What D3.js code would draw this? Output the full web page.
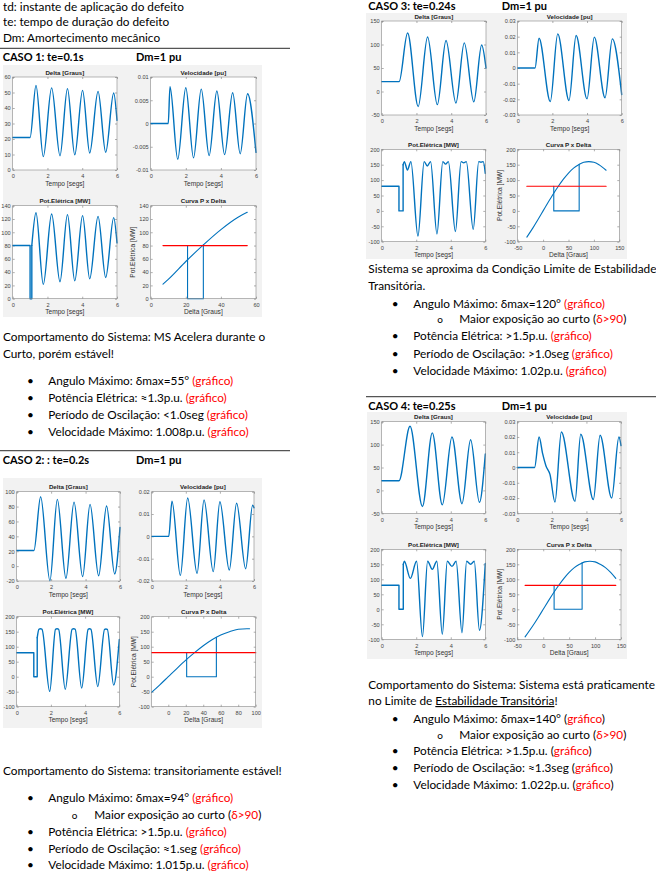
<!DOCTYPE html>
<html><head><meta charset="utf-8">
<script src="https://cdn.jsdelivr.net/npm/d3@7"></script>
<style>
html,body{margin:0;padding:0;background:#fff;}
svg{display:block;}
</style></head><body>
<svg id="page" width="656" height="873"></svg>
<script>
// ---------------- DATA ----------------
const timeTicks = [0, 2, 4, 6];
const timeDomain = [0, 6];

// CASE 1
const c1Delta = [[0,21],[1,21],[1.34,54.6],[1.76,8.6],[2.24,53],[2.72,9.2],[3.15,52.5],[3.57,9.8],[4.02,51.4],[4.43,11],[4.91,50.7],[5.35,11.4],[5.81,49.7],[6,32]];
const c1Speed = [[0,0],[1,0],[1.1,0.0079],[1.54,-0.0077],[2,0.0077],[2.44,-0.0074],[2.88,0.0074],[3.33,-0.0069],[3.77,0.007],[4.21,-0.0067],[4.67,0.0066],[5.1,-0.0065],[5.52,0.0064],[6,-0.0062]];
const c1PowerStep = [[0,80],[1,80],[1,0],[1.1,0],[1.1,80]];
const c1PowerSwing = [[1.1,80],[1.34,129.5],[1.76,21.6],[2.24,127.6],[2.72,25.6],[3.15,126.5],[3.57,27],[4.02,125],[4.43,30],[4.91,124],[5.35,32],[5.81,122],[6,84]];
const c1AngleCurve = [[7,22],[10,29],[20,56],[30,81],[40,104],[50,123],[55,130]];
const c1Mech = [[7,80],[55,80]];
const c1Area = [[21,80],[21,0],[30,0],[30,81]];
const c1DeltaTicks = [0,10,20,30,40,50,60];
const c1SpeedTicks = [-0.01,-0.005,0,0.005,0.01];
const c1PowerTicks = [0,20,40,60,80,100,120,140];
const c1AngleTicks = [0,20,40,60];

// CASE 2
const c2Delta = [[0,21],[1,21],[1.39,93.3],[1.93,-19.6],[2.36,89.7],[2.86,-16.4],[3.33,86],[3.83,-14],[4.26,83],[4.76,-13],[5.22,80.7],[5.69,-10.6],[6,52]];
const c2Speed = [[0,0],[1,0],[1.19,0.0158],[1.68,-0.0175],[2.11,0.0172],[2.66,-0.0166],[3.07,0.0163],[3.61,-0.0158],[4.0,0.0155],[4.55,-0.0151],[4.98,0.0148],[5.51,-0.0145],[5.92,0.014],[6,0.0128]];
const c2PowerStep = [[0,80],[1,80],[1,0],[1.2,0],[1.2,130]];
const c2PowerSwing = [[1.2,130],[1.3,158],[1.39,160],[1.48,158],[1.93,-49],[2.27,158],[2.36,160],[2.45,158],[2.84,-42],[3.24,158],[3.33,160],[3.42,158],[3.8,-38],[4.18,158],[4.26,160],[4.34,158],[4.74,-33],[5.14,158],[5.22,159],[5.3,158],[5.67,-28],[6,124]];
const c2AngleCurve = [[-19,-52],[-10,-28],[0,0],[10,28],[20,55],[30,80],[40,103],[50,123],[60,139],[70,150],[80,158],[90,160],[93,160]];
const c2Mech = [[-19,80],[100,80]];
const c2Area = [[21,80],[21,0],[55,0],[55,131]];
const c2DeltaTicks = [-20,0,20,40,60,80,100];
const c2SpeedTicks = [-0.02,-0.01,0,0.01,0.02];
const c2AngleTicks = [0,20,40,60,80,100];
const bigPowerTicks = [-100,-50,0,50,100,150,200];

// CASE 3
const c3Delta = [[0,21],[1,21],[1.49,124.5],[2.1,-31.8],[2.64,115.8],[3.2,-28],[3.7,108.5],[4.27,-24.5],[4.75,103.5],[5.3,-22],[5.75,99],[6,50]];
const c3Speed = [[0,0],[1,0],[1.23,0.019],[1.88,-0.0214],[2.31,0.0218],[2.96,-0.0207],[3.37,0.0207],[4.0,-0.0197],[4.42,0.0197],[5.04,-0.019],[5.46,0.0186],[6,-0.017]];
const c3PowerStep = [[0,80],[1,80],[1,0],[1.24,0],[1.24,150]];
const c3PowerSwing = [[1.24,150],[1.31,160],[1.49,133],[1.69,160],[2.1,-82],[2.46,160],[2.64,146],[2.83,160],[3.2,-75],[3.54,160],[3.7,152],[3.86,160],[4.27,-67],[4.6,160],[4.75,156],[4.9,160],[5.3,-60],[5.62,160],[5.75,158],[5.88,160],[6,122]];
const c3AngleCurve = [[-32,-85],[-20,-55],[-10,-28],[0,0],[10,28],[20,55],[30,80],[40,103],[50,123],[60,139],[70,150],[80,158],[90,160],[100,158],[110,150],[124,132]];
const c3Mech = [[-32,80],[124,80]];
const c3Area = [[21,80],[21,0],[71,0],[71,151]];

// CASE 4
const c4Delta = [[0,21],[1,21],[1.64,140],[2.36,-35],[2.93,125.5],[3.51,-31.5],[4.07,116.7],[4.65,-29],[5.15,110.7],[5.66,-26],[6,79.6]];
const c4Speed = [[0,0],[1,0],[1.26,0.02],[1.47,0.0089],[1.66,0.001],[1.89,-0.0045],[2.18,-0.0227],[2.55,0.0233],[3.34,-0.0222],[3.67,0.0218],[4.4,-0.021],[4.79,0.0211],[5.46,-0.02],[5.88,0.02],[6,0.0144]];
const c4PowerStep = [[0,80],[1,80],[1,0],[1.25,0],[1.25,150]];
const c4PowerSwing = [[1.25,150],[1.31,160],[1.66,103],[2.02,160],[2.36,-91],[2.66,160],[2.93,133],[3.19,160],[3.51,-83],[3.8,160],[4.07,143],[4.31,160],[4.65,-78],[4.92,160],[5.15,150],[5.36,160],[5.66,-70],[6,153]];
const c4AngleCurve = [[-35,-92],[-20,-55],[-10,-28],[0,0],[10,28],[20,55],[30,80],[40,103],[50,123],[60,139],[70,150],[80,158],[90,160],[100,158],[110,150],[120,139],[130,123],[140,103]];
const c4Mech = [[-35,80],[140,80]];
const c4Area = [[21,80],[21,0],[75,0],[75,155]];
const c34DeltaTicks = [-50,0,50,100,150];
const c34SpeedTicks = [-0.03,-0.02,-0.01,0,0.01,0.02,0.03];
const c34AngleTicks = [-50,0,50,100,150];

// TEXT
const headerLines = ["td: instante de aplicação do defeito", "te: tempo de duração do defeito", "Dm: Amortecimento mecânico"];
const caseTitles = ["CASO 1: te=0.1s", "CASO 2: : te=0.2s", "CASO 3: te=0.24s", "CASO 4: te=0.25s"];
const dampingLabel = "Dm=1 pu";
const plotTitles = ["Delta [Graus]", "Velocidade [pu]", "Pot.Elétrica [MW]", "Curva P x Delta"];
const timeLabel = "Tempo [segs]";
const angleLabel = "Delta [Graus]";
const powerLabel = "Pot.Elétrica [MW]";

const case1Summary = [[["Comportamento do Sistema: MS Acelera durante o",0]], [["Curto, porém estável!",0]]];
const case1Items = [
  [1, [["Angulo Máximo: δmax=55° ",0],["(gráfico)",1]]],
  [1, [["Potência Elétrica: ≈1.3p.u. ",0],["(gráfico)",1]]],
  [1, [["Período de Oscilação: <1.0seg ",0],["(gráfico)",1]]],
  [1, [["Velocidade Máximo: 1.008p.u. ",0],["(gráfico)",1]]]
];
const case2Summary = [[["Comportamento do Sistema: transitoriamente estável!",0]]];
const case2Items = [
  [1, [["Angulo Máximo: δmax=94° ",0],["(gráfico)",1]]],
  [2, [["Maior exposição ao curto (",0],["δ>90",1],[")",0]]],
  [1, [["Potência Elétrica: >1.5p.u. ",0],["(gráfico)",1]]],
  [1, [["Período de Oscilação: ≈1.seg ",0],["(gráfico)",1]]],
  [1, [["Velocidade Máximo: 1.015p.u. ",0],["(gráfico)",1]]]
];
const case3Summary = [[["Sistema se aproxima da Condição Limite de Estabilidade",0]], [["Transitória.",0]]];
const case3Items = [
  [1, [["Angulo Máximo: δmax=120° ",0],["(gráfico)",1]]],
  [2, [["Maior exposição ao curto (",0],["δ>90",1],[")",0]]],
  [1, [["Potência Elétrica: >1.5p.u. ",0],["(gráfico)",1]]],
  [1, [["Período de Oscilação: >1.0seg ",0],["(gráfico)",1]]],
  [1, [["Velocidade Máximo: 1.02p.u. ",0],["(gráfico)",1]]]
];
const case4Summary = [[["Comportamento do Sistema: Sistema está praticamente",0]], [["no Limite de ",0],["Estabilidade Transitória",2],["!",0]]];
const case4Items = [
  [1, [["Angulo Máximo: δmax=140° (",0],["gráfico",1],[")",0]]],
  [2, [["Maior exposição ao curto (",0],["δ>90",1],[")",0]]],
  [1, [["Potência Elétrica: >1.5p.u. (",0],["gráfico",1],[")",0]]],
  [1, [["Período de Oscilação: ≈1.3seg (",0],["gráfico",1],[")",0]]],
  [1, [["Velocidade Máximo: 1.022p.u. (",0],["gráfico",1],[")",0]]]
];

// ---------------- DRAWING ----------------
const page = d3.select("#page");
const docFont = "Lato, 'Open Sans', sans-serif";
const plotFont = "'Liberation Sans', Arial, sans-serif";
const BLUE = "#0072BD", RED = "#FF0000";
const DOC_SIZE = 11.8;
const HEAD_SIZE = 11;

function docText(x, y, segs, opts = {}) {
  const t = page.append("text").attr("x", x).attr("y", y)
    .attr("font-family", docFont).attr("font-size", opts.size || DOC_SIZE)
    .attr("font-weight", opts.bold ? "bold" : "normal").attr("fill", "#000");
  segs.forEach(([s, c]) => {
    const ts = t.append("tspan").text(s).attr("fill", c === 1 ? RED : "#000");
    if (c === 2) ts.attr("text-decoration", "underline");
  });
  return t;
}

function block(summary, summaryX, summaryYs, items, itemYs, bx, tx, sbx, stx) {
  summary.forEach((segs, i) => docText(summaryX, summaryYs[i], segs));
  items.forEach((it, i) => {
    const [lvl, segs] = it;
    if (lvl === 1) {
      docText(bx, itemYs[i], [["•", 0]]);
      docText(tx, itemYs[i], segs);
    } else {
      docText(sbx, itemYs[i], [["o", 0]], {size: 10});
      docText(stx, itemYs[i], segs);
    }
  });
}

function rule(x1, x2, y) {
  page.append("line").attr("x1", x1).attr("x2", x2).attr("y1", y).attr("y2", y)
    .attr("stroke", "#555").attr("stroke-width", 1.2);
}

const fmt = d => String(d);

function drawAxes(r, spec) {
  const [x0, y0, x1, y1] = r;
  const x = d3.scaleLinear().domain(spec.xDomain).range([x0, x1]);
  const y = d3.scaleLinear().domain(spec.yDomain).range([y1, y0]);
  const g = page.append("g");
  g.append("rect").attr("x", x0).attr("y", y0).attr("width", x1 - x0).attr("height", y1 - y0).attr("fill", "#fff");

  const styleAxis = sel => {
    sel.select(".domain").remove();
    sel.selectAll(".tick line").attr("stroke", "#777").attr("stroke-width", 0.6);
    sel.selectAll(".tick text").attr("fill", "#444").attr("font-family", plotFont).attr("font-size", 5.6);
  };
  g.append("g").attr("transform", `translate(0,${y1})`)
    .call(d3.axisBottom(x).tickValues(spec.xTicks).tickSize(-2).tickSizeOuter(0).tickPadding(4.5).tickFormat(fmt)).call(styleAxis);
  g.append("g").attr("transform", `translate(0,${y0})`)
    .call(d3.axisTop(x).tickValues(spec.xTicks).tickSize(-2).tickSizeOuter(0).tickFormat("")).call(styleAxis);
  g.append("g").attr("transform", `translate(${x0},0)`)
    .call(d3.axisLeft(y).tickValues(spec.yTicks).tickSize(-2).tickSizeOuter(0).tickPadding(2).tickFormat(fmt)).call(styleAxis);
  g.append("g").attr("transform", `translate(${x1},0)`)
    .call(d3.axisRight(y).tickValues(spec.yTicks).tickSize(-2).tickSizeOuter(0).tickFormat("")).call(styleAxis);

  spec.series.forEach(s => {
    const line = d3.line().x(d => x(d[0])).y(d => y(d[1])).curve(s.smooth ? d3.curveMonotoneX : d3.curveLinear);
    g.append("path").attr("d", line(s.data)).attr("fill", "none")
      .attr("stroke", s.color || BLUE).attr("stroke-width", s.width || 1.4)
      .attr("stroke-linejoin", "round").attr("stroke-linecap", "round");
  });

  g.append("rect").attr("x", x0).attr("y", y0).attr("width", x1 - x0).attr("height", y1 - y0)
    .attr("fill", "none").attr("stroke", "#888").attr("stroke-width", 0.6);

  g.append("text").attr("x", (x0 + x1) / 2).attr("y", y0 - 2.5).attr("text-anchor", "middle")
    .attr("font-family", plotFont).attr("font-size", 6.2).attr("font-weight", "bold").attr("fill", "#222").text(spec.title);
  g.append("text").attr("x", (x0 + x1) / 2).attr("y", y1 + 15.5).attr("text-anchor", "middle")
    .attr("font-family", plotFont).attr("font-size", 6.6).attr("fill", "#333").text(spec.xLabel);
  if (spec.yLabel) {
    const cx = x0 - 15.5, cy = (y0 + y1) / 2;
    g.append("text").attr("transform", `translate(${cx},${cy}) rotate(-90)`).attr("text-anchor", "middle")
      .attr("font-family", plotFont).attr("font-size", 6.6).attr("fill", "#333").text(spec.yLabel);
  }
}

function drawFigure(layout, d) {
  const [bx0, by0, bx1, by1] = layout.bg;
  page.append("rect").attr("x", bx0).attr("y", by0).attr("width", bx1 - bx0).attr("height", by1 - by0).attr("fill", "#f2f2f2");
  drawAxes(layout.A, {xDomain: timeDomain, xTicks: timeTicks, yDomain: d3.extent(d.deltaTicks), yTicks: d.deltaTicks,
    title: plotTitles[0], xLabel: timeLabel, series: [{data: d.delta, smooth: true}]});
  drawAxes(layout.B, {xDomain: timeDomain, xTicks: timeTicks, yDomain: d3.extent(d.speedTicks), yTicks: d.speedTicks,
    title: plotTitles[1], xLabel: timeLabel, series: [{data: d.speed, smooth: true}]});
  drawAxes(layout.C, {xDomain: timeDomain, xTicks: timeTicks, yDomain: d3.extent(d.powerTicks), yTicks: d.powerTicks,
    title: plotTitles[2], xLabel: timeLabel, series: [{data: d.powerStep}, {data: d.powerSwing, smooth: true}]});
  drawAxes(layout.D, {xDomain: d.angleDomain, xTicks: d.angleTicks, yDomain: d3.extent(d.powerTicks), yTicks: d.powerTicks,
    title: plotTitles[3], xLabel: angleLabel, yLabel: powerLabel,
    series: [{data: d.angleCurve, smooth: true, width: 1.1}, {data: d.area, width: 1.1}, {data: d.mech, color: RED, width: 1.2}]});
}

// header
headerLines.forEach((s, i) => docText(3, [10.5, 26, 42][i], [[s, 0]]));
rule(0, 290, 48.3);

// CASE 1
docText(2.7, 61.3, [[caseTitles[0], 0]], {bold: true, size: HEAD_SIZE});
docText(136, 61.3, [[dampingLabel, 0]], {bold: true, size: HEAD_SIZE});
drawFigure({bg: [3, 65, 262, 317], A: [12.7, 77, 117, 170], B: [150.7, 77, 256, 170], C: [12.7, 205.7, 117, 298.7], D: [150.7, 205.7, 256, 298.7]},
  {delta: c1Delta, deltaTicks: c1DeltaTicks, speed: c1Speed, speedTicks: c1SpeedTicks, powerStep: c1PowerStep, powerSwing: c1PowerSwing,
   powerTicks: c1PowerTicks, angleCurve: c1AngleCurve, angleDomain: [0, 60], angleTicks: c1AngleTicks, mech: c1Mech, area: c1Area});
block(case1Summary, 3, [341, 357.7], case1Items, [385, 401.7, 419, 436], 27, 48.3, 71.7, 94.3);
rule(0, 290, 450.7);

// CASE 2
docText(2.7, 464, [[caseTitles[1], 0]], {bold: true, size: HEAD_SIZE});
docText(136, 464, [[dampingLabel, 0]], {bold: true, size: HEAD_SIZE});
drawFigure({bg: [3, 478, 262, 728], A: [16.7, 491.7, 120, 581], B: [151.7, 491.7, 254, 581], C: [16.7, 616.7, 119.3, 706.7], D: [151.7, 616.7, 255.7, 706.7]},
  {delta: c2Delta, deltaTicks: c2DeltaTicks, speed: c2Speed, speedTicks: c2SpeedTicks, powerStep: c2PowerStep, powerSwing: c2PowerSwing,
   powerTicks: bigPowerTicks, angleCurve: c2AngleCurve, angleDomain: [-19, 100], angleTicks: c2AngleTicks, mech: c2Mech, area: c2Area});
block(case2Summary, 3, [775.3], case2Items, [802.3, 819, 836, 852.7, 869.3], 27, 48.3, 71.7, 94.3);

// CASE 3
docText(368.3, 10, [[caseTitles[2], 0]], {bold: true, size: HEAD_SIZE});
docText(501.7, 10, [[dampingLabel, 0]], {bold: true, size: HEAD_SIZE});
drawFigure({bg: [366, 13, 627, 259], A: [381.7, 21, 486, 115], B: [517.7, 21, 621.7, 115], C: [381.7, 149.3, 485.3, 241.7], D: [517.7, 149.3, 619.3, 241.7]},
  {delta: c3Delta, deltaTicks: c34DeltaTicks, speed: c3Speed, speedTicks: c34SpeedTicks, powerStep: c3PowerStep, powerSwing: c3PowerSwing,
   powerTicks: bigPowerTicks, angleCurve: c3AngleCurve, angleDomain: [-50, 150], angleTicks: c34AngleTicks, mech: c3Mech, area: c3Area});
block(case3Summary, 368.3, [273.3, 290], case3Items, [307.7, 323.3, 340, 357.7, 375], 391.7, 413.3, 437.3, 459.3);
rule(366, 656, 396.7);

// CASE 4
docText(368.3, 410, [[caseTitles[3], 0]], {bold: true, size: HEAD_SIZE});
docText(501.7, 410, [[dampingLabel, 0]], {bold: true, size: HEAD_SIZE});
drawFigure({bg: [367, 412, 627, 659], A: [381.7, 421.7, 485.3, 513.3], B: [517.3, 421.7, 621, 513.3], C: [381.7, 549.3, 485.3, 639.3], D: [517.3, 549.3, 621, 639.3]},
  {delta: c4Delta, deltaTicks: c34DeltaTicks, speed: c4Speed, speedTicks: c34SpeedTicks, powerStep: c4PowerStep, powerSwing: c4PowerSwing,
   powerTicks: bigPowerTicks, angleCurve: c4AngleCurve, angleDomain: [-50, 150], angleTicks: c34AngleTicks, mech: c4Mech, area: c4Area});
block(case4Summary, 368.3, [689.3, 705], case4Items, [723.3, 739.3, 755, 772.3, 789.3], 391.7, 413.3, 437.3, 459.3);
</script>
</body></html>
